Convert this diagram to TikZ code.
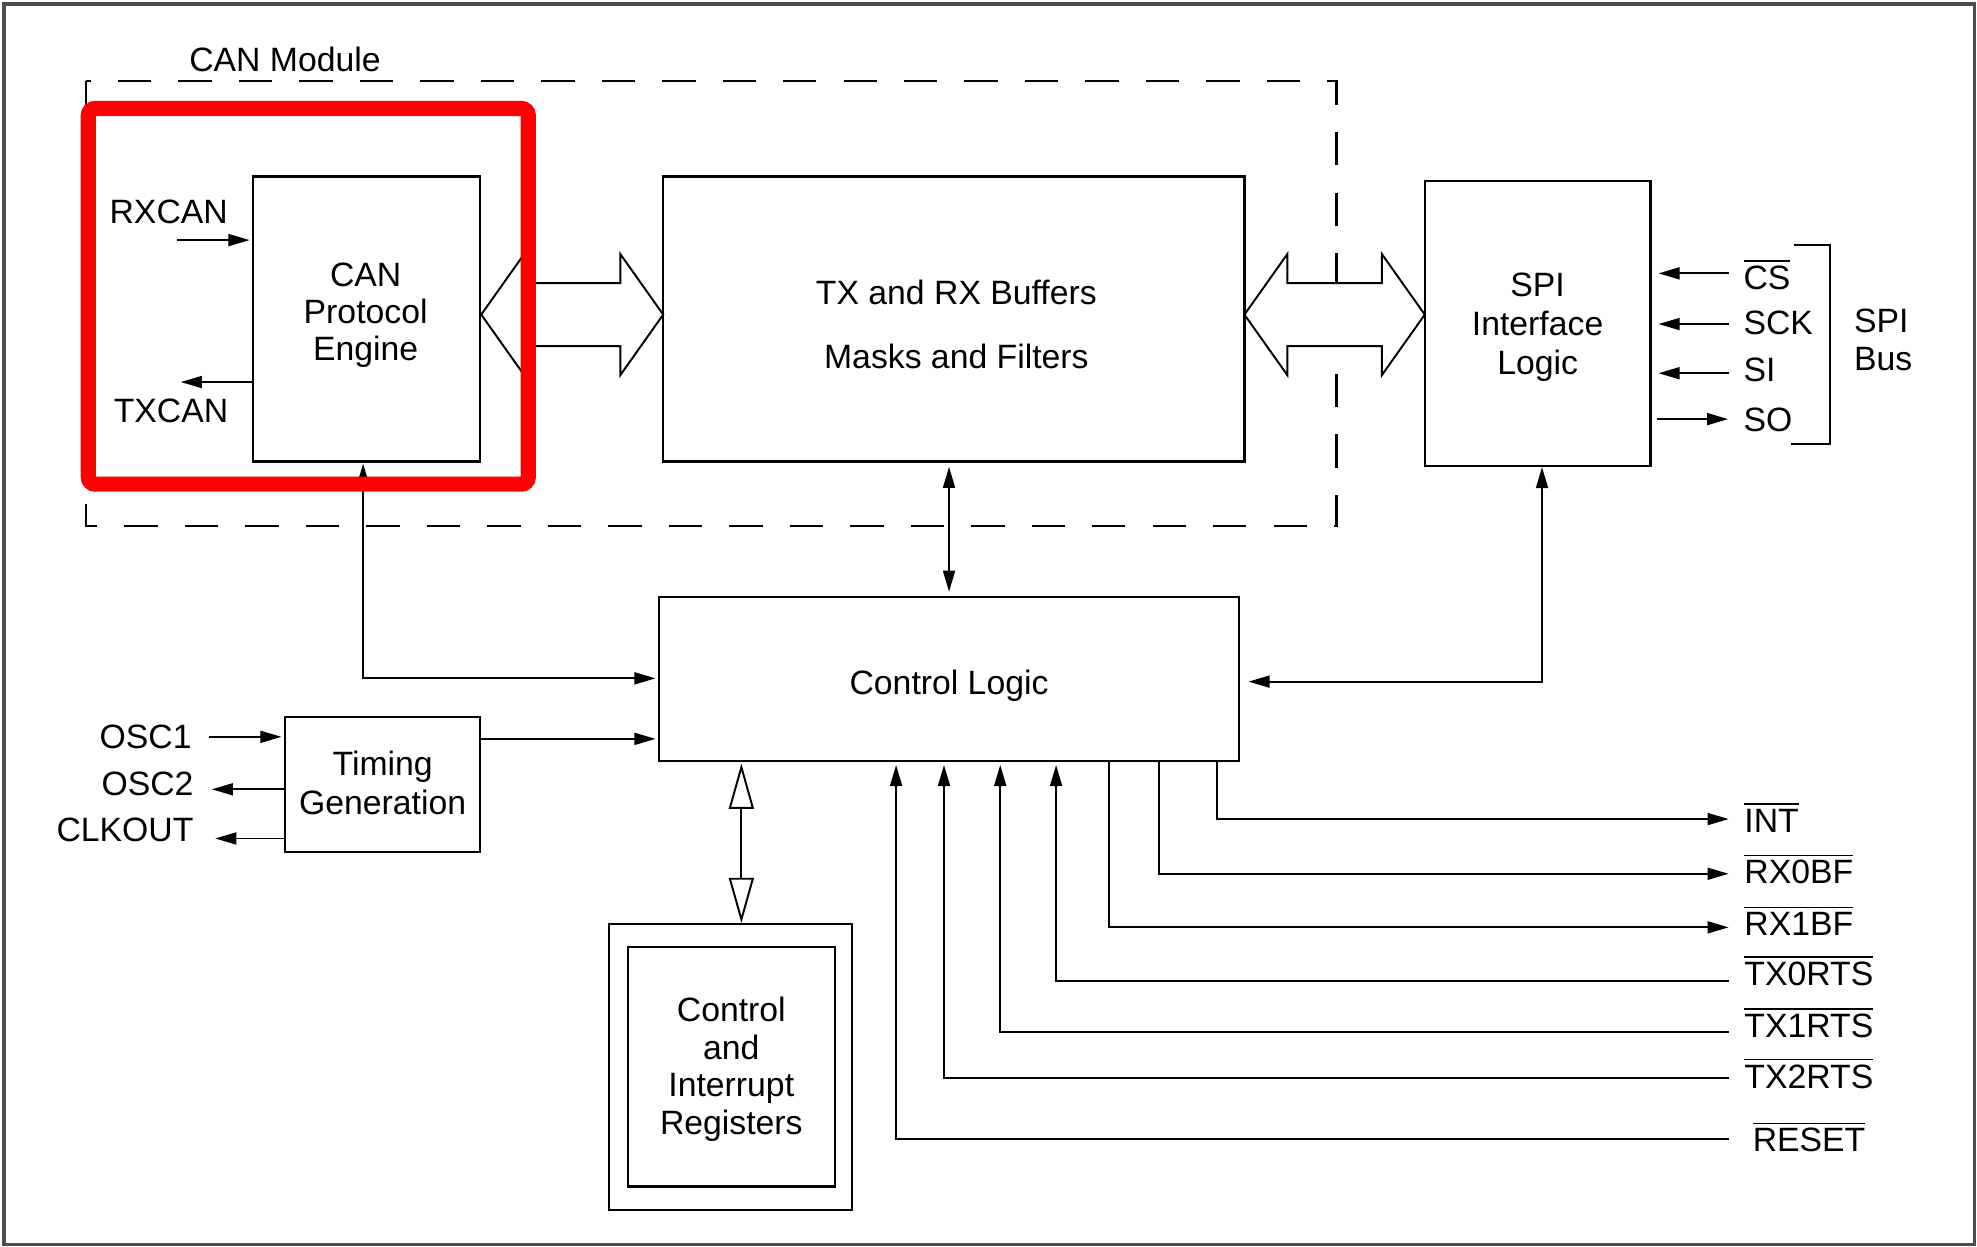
\documentclass[tikz,border=0pt]{standalone}
\usepackage{fontspec}
\setmainfont{Liberation Sans}
\usetikzlibrary{arrows.meta,fit,calc}

% active-low signal name
\newcommand{\lowact}[1]{$\overline{\mbox{#1}}$}

\begin{document}
\begin{tikzpicture}[x=0.012608cm,y=-0.012608cm,
  font=\fontsize{9.6pt}{10.7pt}\selectfont,
  blk/.style={draw, line width=0.6pt, inner sep=0pt},
  txt/.style={inner sep=0pt, align=center},
  lbl/.style={inner sep=0pt},
  tip/.tip={Triangle[length=6pt,width=3.4pt]},
  sig/.style={line width=0.55pt, -tip},
  sigb/.style={line width=0.55pt, tip-tip},
  bus/.style={draw, line width=0.55pt, fill=white, line join=miter},
  opentip/.tip={Triangle[open,length=12.9pt,width=7.1pt,fill=white]},
  regbus/.style={line width=0.55pt, opentip-opentip},
]
\useasboundingbox (0,0) rectangle (1568,989);
\draw[line width=1pt, black!70] (3,3) rectangle (1566,987);

% ---- CAN module outline -------------------------------------------
\draw[line width=0.6pt, dash pattern=on 9.5pt off 7.7pt] (68,64) rectangle (1060,417);
\node[lbl, anchor=base] (canmod) at (226,56.6) {CAN Module};

% ---- blocks --------------------------------------------------------
\node[blk, fit={(201,140)(381,366)}] (cpe) {};
\node[blk, fit={(526,140)(987,366)}] (buf) {};
\node[blk, fit={(1130,143.3)(1309,369.6)}] (spi) {};
\node[blk, fit={(522.7,473.5)(982.7,603.6)}] (ctl) {};
\node[blk, fit={(226.3,568.4)(380.7,675.5)}] (tim) {};
\node[blk, fit={(483,733)(676,960)}] (regout) {};
\node[blk, fit={(498,751)(662,941)}] (reg) {};

% ---- block titles --------------------------------------------------
\node[txt] (cpe-t) at ($(cpe.center)+(-1,-3)$) {CAN\\[-0.3pt]Protocol\\[-0.3pt]Engine};
\node[txt] (buf-t) at ($(buf.center)+(2,4)$) {TX and RX Buffers\\[7.5pt]Masks and Filters};
\node[txt] (spi-t) at ($(spi.center)+(0,3)$) {SPI\\[0.3pt]Interface\\[0.3pt]Logic};
\node[txt] (ctl-t) at ($(ctl.center)+(0,5)$) {Control Logic};
\node[txt] (tim-t) at ($(tim.center)+(0,-1)$) {Timing\\[0.4pt]Generation};
\node[txt] (reg-t) at ($(reg.center)+(0,2)$) {Control\\and\\Interrupt\\Registers};

% ---- wide data paths ----------------------------------------------
\draw[bus] (381.7,249.5) -- (415.7,201.5) -- (415.7,224.5) -- (492,224.5)
  -- (492,201.5) -- (526,249.5) -- (492,297.5) -- (492,274.5)
  -- (415.7,274.5) -- (415.7,297.5) -- cycle;
\draw[bus] (987,249.5) -- (1021,201.5) -- (1021,224.5) -- (1096,224.5)
  -- (1096,201.5) -- (1130,249.5) -- (1096,297.5) -- (1096,274.5)
  -- (1021,274.5) -- (1021,297.5) -- cycle;

% ---- CAN bus pins --------------------------------------------------
\node[lbl, anchor=base] (rxcan) at (133.8,177.6) {RXCAN};
\node[lbl, anchor=base] (txcan) at (135.6,335.3) {TXCAN};
\coordinate (prx) at (140.6,190.4);
\coordinate (ptx) at (143.4,303);
\draw[sig, shorten >=0.8pt] (prx) -- (prx -| cpe.west);
\draw[sig] (ptx -| cpe.west) -- (ptx);

% ---- oscillator pins -----------------------------------------------
\node[lbl, anchor=base east] (osc1) at (152.5,593.6) {OSC1};
\node[lbl, anchor=base east] (osc2) at (154,631.2) {OSC2};
\node[lbl, anchor=base east] (clkout) at (154,667.6) {CLKOUT};
\coordinate (po1) at (166,584.4);
\coordinate (po2) at (168,626);
\coordinate (pck) at (170.7,665);
\draw[sig, shorten >=0.8pt] (po1) -- (po1 -| tim.west);
\draw[sig] (po2 -| tim.west) -- (po2);
\draw[sig] (pck -| tim.west) -- (pck);

% ---- internal connections -----------------------------------------
\coordinate (k1) at (288,538);
\coordinate (k2) at (0,586);
\coordinate (k3) at (1223,540.6);
\draw[sigb, shorten <=0.3pt, shorten >=0.7pt] (cpe.south -| k1) |- (k1 -| ctl.west);
\draw[sig, shorten >=0.7pt] (k2 -| tim.east) -- (k2 -| ctl.west);
\draw[sigb, shorten <=1.2pt, shorten >=1.2pt] (ctl.north |- buf.south) -- (ctl.north);
\draw[sigb, shorten >=2.4pt] (k3 |- spi.south) |- (k3 -| ctl.east);
\draw[regbus, shorten <=0.4pt] (ctl.south -| 588,0) -- (regout.north -| 588,0);

% ---- SPI bus pins --------------------------------------------------
\coordinate (pcs) at (1371.5,216.8);
\coordinate (psck) at (1371.5,257);
\coordinate (psi) at (1371.5,296);
\coordinate (pso) at (1370.6,332.4);
\draw[sig, shorten >=2pt] (pcs) -- (pcs -| spi.east);
\draw[sig, shorten >=2pt] (psck) -- (psck -| spi.east);
\draw[sig, shorten >=2pt] (psi) -- (psi -| spi.east);
\draw[sig, shorten <=1.5pt] (pso -| spi.east) -- (pso);
\node[lbl, anchor=base west] (cs) at (1382.3,229.6) {\lowact{CS}};
\node[lbl, anchor=base west] (sck) at (1382.3,265.1) {SCK};
\node[lbl, anchor=base west] (si) at (1382.3,302.3) {SI};
\node[lbl, anchor=base west] (so) at (1382.3,342.6) {SO};
\draw[line width=0.6pt] (1423,194.3) -- (1451.5,194.3) -- (1451.5,352) -- (1420.7,352);
\node[lbl, anchor=west, align=left] (spibus) at (1470,269.5) {SPI\\[0.3pt]Bus};

% ---- control and status pins ---------------------------------------
\coordinate (pint) at (1371,649.6);
\coordinate (prx0) at (1371,693);
\coordinate (prx1) at (1371,735.5);
\coordinate (ptx0) at (1371,777.7);
\coordinate (ptx1) at (1371,818.4);
\coordinate (ptx2) at (1371,855.3);
\coordinate (prst) at (1371,903);
\draw[sig] (ctl.south -| 965,0) |- (pint);
\draw[sig] (ctl.south -| 919.5,0) |- (prx0);
\draw[sig] (ctl.south -| 879.4,0) |- (prx1);
\draw[sig, shorten >=0.8pt] (ptx0) -| (ctl.south -| 837.6,0);
\draw[sig, shorten >=0.8pt] (ptx1) -| (ctl.south -| 793.3,0);
\draw[sig, shorten >=0.8pt] (ptx2) -| (ctl.south -| 748.7,0);
\draw[sig, shorten >=0.8pt] (prst) -| (ctl.south -| 710.7,0);
\node[lbl, anchor=base west] (int) at (1383,659.9) {\lowact{INT}};
\node[lbl, anchor=base west] (rx0bf) at (1383,701) {\lowact{RX0BF}};
\node[lbl, anchor=base west] (rx1bf) at (1383,741.9) {\lowact{RX1BF}};
\node[lbl, anchor=base west] (tx0rts) at (1383,781.6) {\lowact{TX0RTS}};
\node[lbl, anchor=base west] (tx1rts) at (1383,822.8) {\lowact{TX1RTS}};
\node[lbl, anchor=base west] (tx2rts) at (1383,862.9) {\lowact{TX2RTS}};
\node[lbl, anchor=base west] (reset) at (1389.6,913.6) {\lowact{RESET}};

% ---- highlight ------------------------------------------------------
\draw[red, line width=4.3pt, rounded corners=2pt] (70,86) rectangle (419,384);
\end{tikzpicture}
\end{document}
